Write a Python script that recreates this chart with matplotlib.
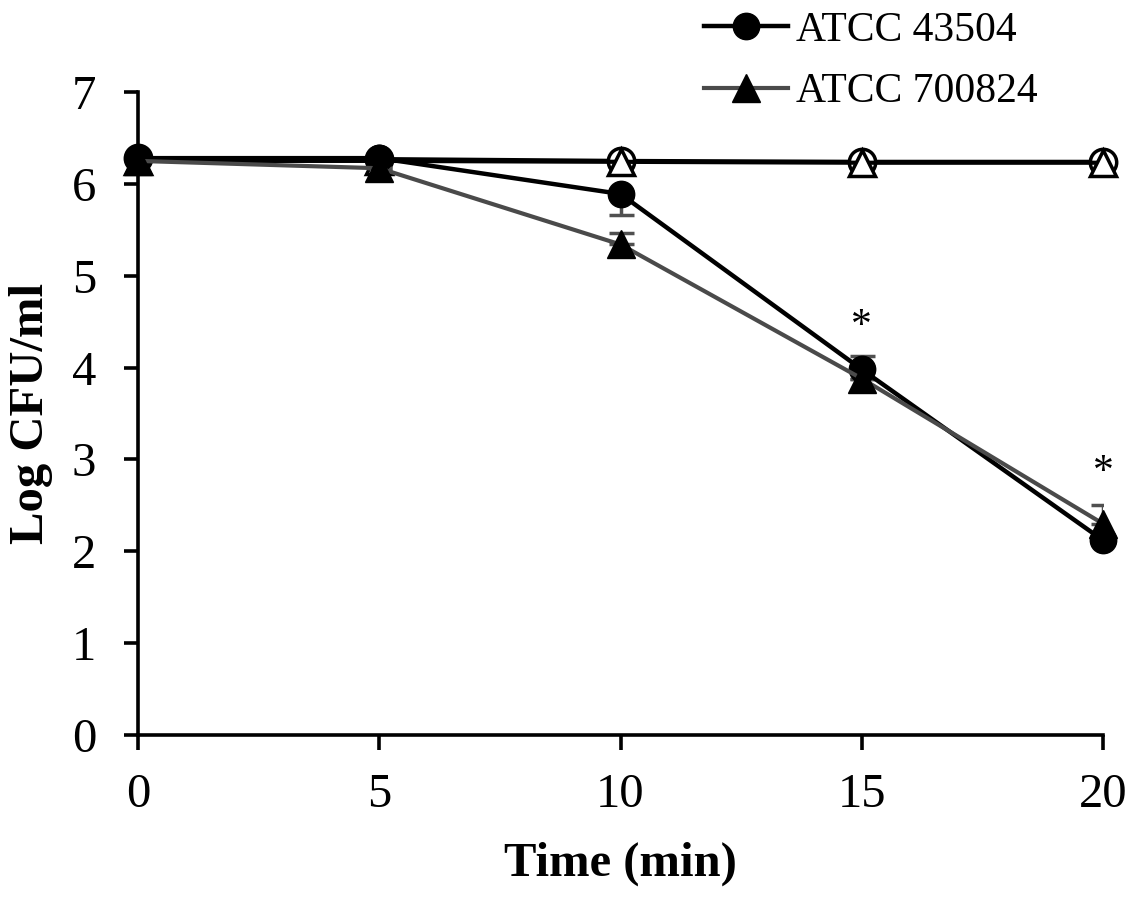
import numpy as np
import matplotlib.pyplot as plt
from matplotlib.lines import Line2D

plt.rcParams['font.family'] = ['Liberation Serif', 'DejaVu Serif']

time_min = [0, 5, 10, 15, 20]

# ATCC 43504 (filled circles)
strain1 = [6.28, 6.28, 5.89, 3.98, 2.12]
strain1_err_lo = [0, 0, 0.23, 0, 0]
strain1_err_hi = [0, 0, 0, 0.15, 0]

# ATCC 700824 (filled triangles)
strain2 = [6.25, 6.17, 5.34, 3.88, 2.30]
strain2_err_lo = [0, 0, 0, 0, 0]
strain2_err_hi = [0, 0, 0.13, 0, 0.2]

# untreated controls (open markers)
ctrl1 = [6.28, 6.27, 6.25, 6.24, 6.24]
ctrl2 = [6.25, 6.25, 6.24, 6.23, 6.23]

star_x = [15, 20]
star_y = [4.45, 2.86]

fig = plt.figure(figsize=(11.34, 9.02), dpi=100)
ax = fig.add_axes([0.1217, 0.1851, 0.851, 0.7129])

ms = 19
ax.plot(time_min, ctrl1, '-o', color='black', lw=3, ms=ms, mfc='white', mec='black', mew=2.5,
        zorder=2, clip_on=False)
ax.plot(time_min, ctrl2, '-^', color='black', lw=3, ms=ms, mfc='white', mec='black', mew=2.5,
        zorder=2, clip_on=False)

ax.errorbar(time_min, strain1, yerr=[strain1_err_lo, strain1_err_hi], fmt='none',
            ecolor='#505050', elinewidth=2.5, capsize=9, capthick=2.5, zorder=3)
ax.errorbar(time_min, strain2, yerr=[strain2_err_lo, strain2_err_hi], fmt='none',
            ecolor='#505050', elinewidth=2.5, capsize=9, capthick=2.5, zorder=3)

ax.plot(time_min, strain1, '-o', color='black', lw=3.2, ms=ms, mfc='black', mec='black',
        zorder=4, clip_on=False)
ax.plot(time_min, strain2, '-^', color='#4a4a4a', lw=3, ms=ms + 1, mfc='black', mec='black',
        zorder=5, clip_on=False)

for x, y in zip(star_x, star_y):
    ax.text(x, y, '*', ha='center', va='center', fontsize=30)

ax.set_xlim(0, 20)
ax.set_ylim(0, 7)
ax.set_xticks([0, 5, 10, 15, 20])
ax.set_yticks(range(0, 8))
for s in ['top', 'right']:
    ax.spines[s].set_visible(False)
for s in ['left', 'bottom']:
    ax.spines[s].set_linewidth(2.6)
ax.tick_params(axis='y', direction='out', length=10, width=2.6, labelsize=35, pad=20)
ax.tick_params(axis='x', direction='out', length=11, width=2.6, labelsize=35, pad=16)

ax.set_xlabel('Time (min)', fontsize=35, fontweight='bold', labelpad=18)
ax.set_ylabel('Log CFU/ml', fontsize=35, fontweight='bold', labelpad=14)

handles = [
    Line2D([], [], color='black', lw=3.2, marker='o', ms=ms, mfc='black', mec='black'),
    Line2D([], [], color='#4a4a4a', lw=3, marker='^', ms=ms + 1, mfc='black', mec='black'),
]
fig.legend(handles, ['ATCC 43504', 'ATCC 700824'], loc='upper left',
           bbox_to_anchor=(0.599, 1.015), frameon=False, fontsize=30,
           handlelength=2.0, handletextpad=0.2, labelspacing=0.55, borderpad=0.1)

fig.savefig('out.png', dpi=100)
